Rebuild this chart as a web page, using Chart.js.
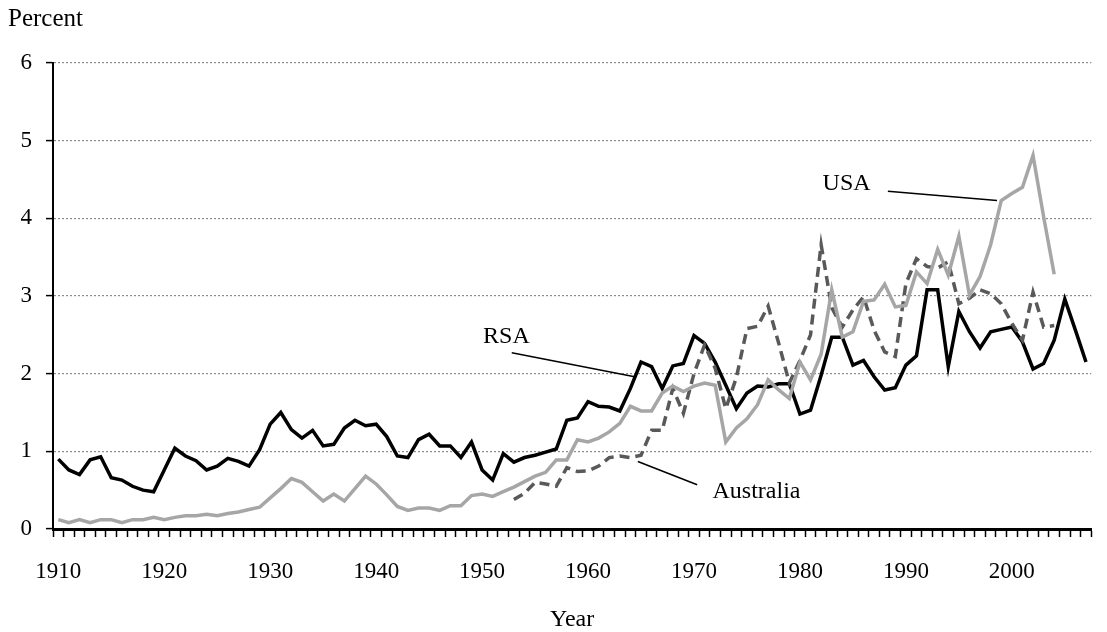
<!DOCTYPE html>
<html>
<head>
<meta charset="utf-8">
<script src="https://cdn.jsdelivr.net/npm/chart.js@4"></script>
<style>
  html, body { margin: 0; padding: 0; background: #fff; }
  #wrap { width: 1107px; height: 632px; }
</style>
</head>
<body>
<div id="wrap"><canvas id="lineChart"></canvas></div>
<script>
// years 1910..2007
const years = [];
for (let y = 1910; y <= 2007; y++) years.push(String(y));

const rsa = [
  0.90, 0.76, 0.70, 0.89, 0.93, 0.66, 0.63, 0.55, 0.50, 0.48,
  0.76, 1.04, 0.94, 0.88, 0.76, 0.81, 0.91, 0.87, 0.81, 1.02,
  1.35, 1.50, 1.28, 1.17, 1.27, 1.07, 1.09, 1.30, 1.40, 1.33,
  1.35, 1.19, 0.94, 0.92, 1.15, 1.22, 1.07, 1.07, 0.92, 1.12,
  0.76, 0.63, 0.97, 0.86, 0.92, 0.95, 0.99, 1.03, 1.40, 1.43,
  1.64, 1.58, 1.57, 1.52, 1.81, 2.15, 2.09, 1.81, 2.10, 2.13,
  2.49, 2.39, 2.15, 1.85, 1.55, 1.75, 1.84, 1.83, 1.87, 1.87,
  1.48, 1.53, 1.98, 2.47, 2.47, 2.11, 2.17, 1.96, 1.79, 1.82,
  2.11, 2.23, 3.08, 3.08, 2.09, 2.80, 2.54, 2.33, 2.54, 2.57,
  2.60, 2.41, 2.06, 2.13, 2.43, 2.96, 2.56, 2.15
];

const usa = [
  0.12, 0.08, 0.12, 0.08, 0.12, 0.12, 0.08, 0.12, 0.12, 0.15,
  0.12, 0.15, 0.17, 0.17, 0.19, 0.17, 0.20, 0.22, 0.25, 0.28,
  0.40, 0.52, 0.65, 0.60, 0.48, 0.36, 0.45, 0.36, 0.52, 0.68,
  0.58, 0.44, 0.29, 0.24, 0.27, 0.27, 0.24, 0.30, 0.30, 0.43,
  0.45, 0.42, 0.48, 0.54, 0.61, 0.68, 0.73, 0.89, 0.89, 1.15,
  1.12, 1.17, 1.25, 1.36, 1.58, 1.52, 1.52, 1.75, 1.84, 1.77,
  1.84, 1.88, 1.85, 1.12, 1.30, 1.42, 1.60, 1.92, 1.79, 1.68,
  2.15, 1.92, 2.25, 3.08, 2.47, 2.54, 2.93, 2.95, 3.15, 2.86,
  2.88, 3.31, 3.16, 3.60, 3.27, 3.77, 3.01, 3.25, 3.66, 4.23,
  4.32, 4.40, 4.81, 4.02, 3.28, null, null, null
];

const australia = [
  null, null, null, null, null, null, null, null, null, null,
  null, null, null, null, null, null, null, null, null, null,
  null, null, null, null, null, null, null, null, null, null,
  null, null, null, null, null, null, null, null, null, null,
  null, null, null, 0.38, 0.46, 0.60, 0.58, 0.55, 0.79, 0.74,
  0.75, 0.81, 0.92, 0.94, 0.92, 0.95, 1.27, 1.27, 1.81, 1.49,
  2.00, 2.37, 2.07, 1.55, 1.95, 2.58, 2.61, 2.87, 2.39, 1.88,
  2.17, 2.50, 3.66, 2.85, 2.60, 2.82, 2.99, 2.56, 2.28, 2.22,
  3.16, 3.48, 3.38, 3.36, 3.44, 2.90, 2.97, 3.08, 3.03, 2.90,
  2.65, 2.43, 3.05, 2.60, 2.62, null, null, null
];

// series name labels with leader lines, in data units (year, percent)
const notes = [
  { text: "RSA", at: [1952.3, 2.48], from: [1952.8, 2.27], to: [1964.4, 1.96] },
  { text: "Australia", at: [1975.9, 0.48], from: [1970.3, 0.57], to: [1964.7, 0.87] },
  { text: "USA", at: [1984.4, 4.45], from: [1988.3, 4.35], to: [1998.6, 4.23] }
];

const serif = "'Liberation Serif', 'Times New Roman', serif";
Chart.defaults.font.family = serif;
Chart.defaults.color = "#000";

const textPlugin = {
  id: "textPlugin",
  afterDraw(chart) {
    const ctx = chart.ctx;
    const xs = chart.scales.x, ys = chart.scales.y;
    const px = (yr) => xs.getPixelForValue(yr - 1910);
    ctx.save();
    ctx.fillStyle = "#000";
    ctx.strokeStyle = "#000";
    ctx.lineWidth = 1.5;
    ctx.font = "24px " + serif;
    ctx.textAlign = "center";
    ctx.textBaseline = "middle";
    notes.forEach((n) => {
      ctx.beginPath();
      ctx.moveTo(px(n.from[0]), ys.getPixelForValue(n.from[1]));
      ctx.lineTo(px(n.to[0]), ys.getPixelForValue(n.to[1]));
      ctx.stroke();
      ctx.fillText(n.text, px(n.at[0]), ys.getPixelForValue(n.at[1]));
    });
    // axis titles
    ctx.textAlign = "center";
    const area = chart.chartArea;
    ctx.fillText("Year", (area.left + area.right) / 2, 620);
    ctx.font = "25px " + serif;
    ctx.textAlign = "left";
    ctx.fillText("Percent", 8, 19);
    ctx.restore();
  }
};

new Chart(document.getElementById("lineChart").getContext("2d"), {
  type: "line",
  data: {
    labels: years,
    datasets: [
      {
        label: "USA",
        data: usa,
        borderColor: "#a6a6a6",
        borderWidth: 3.5,
        pointRadius: 0,
        tension: 0,
        fill: false
      },
      {
        label: "Australia",
        data: australia,
        borderColor: "#595959",
        borderWidth: 3.5,
        borderDash: [10, 6],
        pointRadius: 0,
        tension: 0,
        fill: false
      },
      {
        label: "RSA",
        data: rsa,
        borderColor: "#000000",
        borderWidth: 3.5,
        pointRadius: 0,
        tension: 0,
        fill: false
      }
    ]
  },
  options: {
    responsive: true,
    maintainAspectRatio: false,
    animation: false,
    layout: { padding: { top: 63, right: 0, bottom: 0, left: 0 } },
    plugins: {
      legend: { display: false },
      tooltip: { enabled: false }
    },
    scales: {
      x: {
        type: "category",
        offset: true,
        afterFit(scale) { scale.height = 103; },
        border: { display: true, color: "#000", width: 3, z: 1 },
        grid: {
          offset: true,
          drawOnChartArea: false,
          drawTicks: true,
          tickLength: 8,
          tickColor: "#000",
          tickWidth: 1.5
        },
        ticks: {
          autoSkip: false,
          maxRotation: 0,
          minRotation: 0,
          padding: 21,
          font: { size: 23 },
          color: "#000",
          callback: function (value, index) {
            const yr = 1910 + index;
            return yr % 10 === 0 ? String(yr) : "";
          }
        }
      },
      y: {
        min: 0,
        max: 6,
        afterFit(scale) { scale.width = 53; },
        border: { display: true, color: "#000", width: 2, dash: [2, 2] },
        grid: {
          color: "#8c8c8c",
          lineWidth: 1.2,
          tickBorderDash: [],
          tickColor: "#000",
          tickLength: 7,
          tickWidth: 1.5
        },
        ticks: {
          stepSize: 1,
          padding: 14,
          font: { size: 23 },
          color: "#000"
        }
      }
    }
  },
  plugins: [textPlugin]
});
</script>
</body>
</html>
